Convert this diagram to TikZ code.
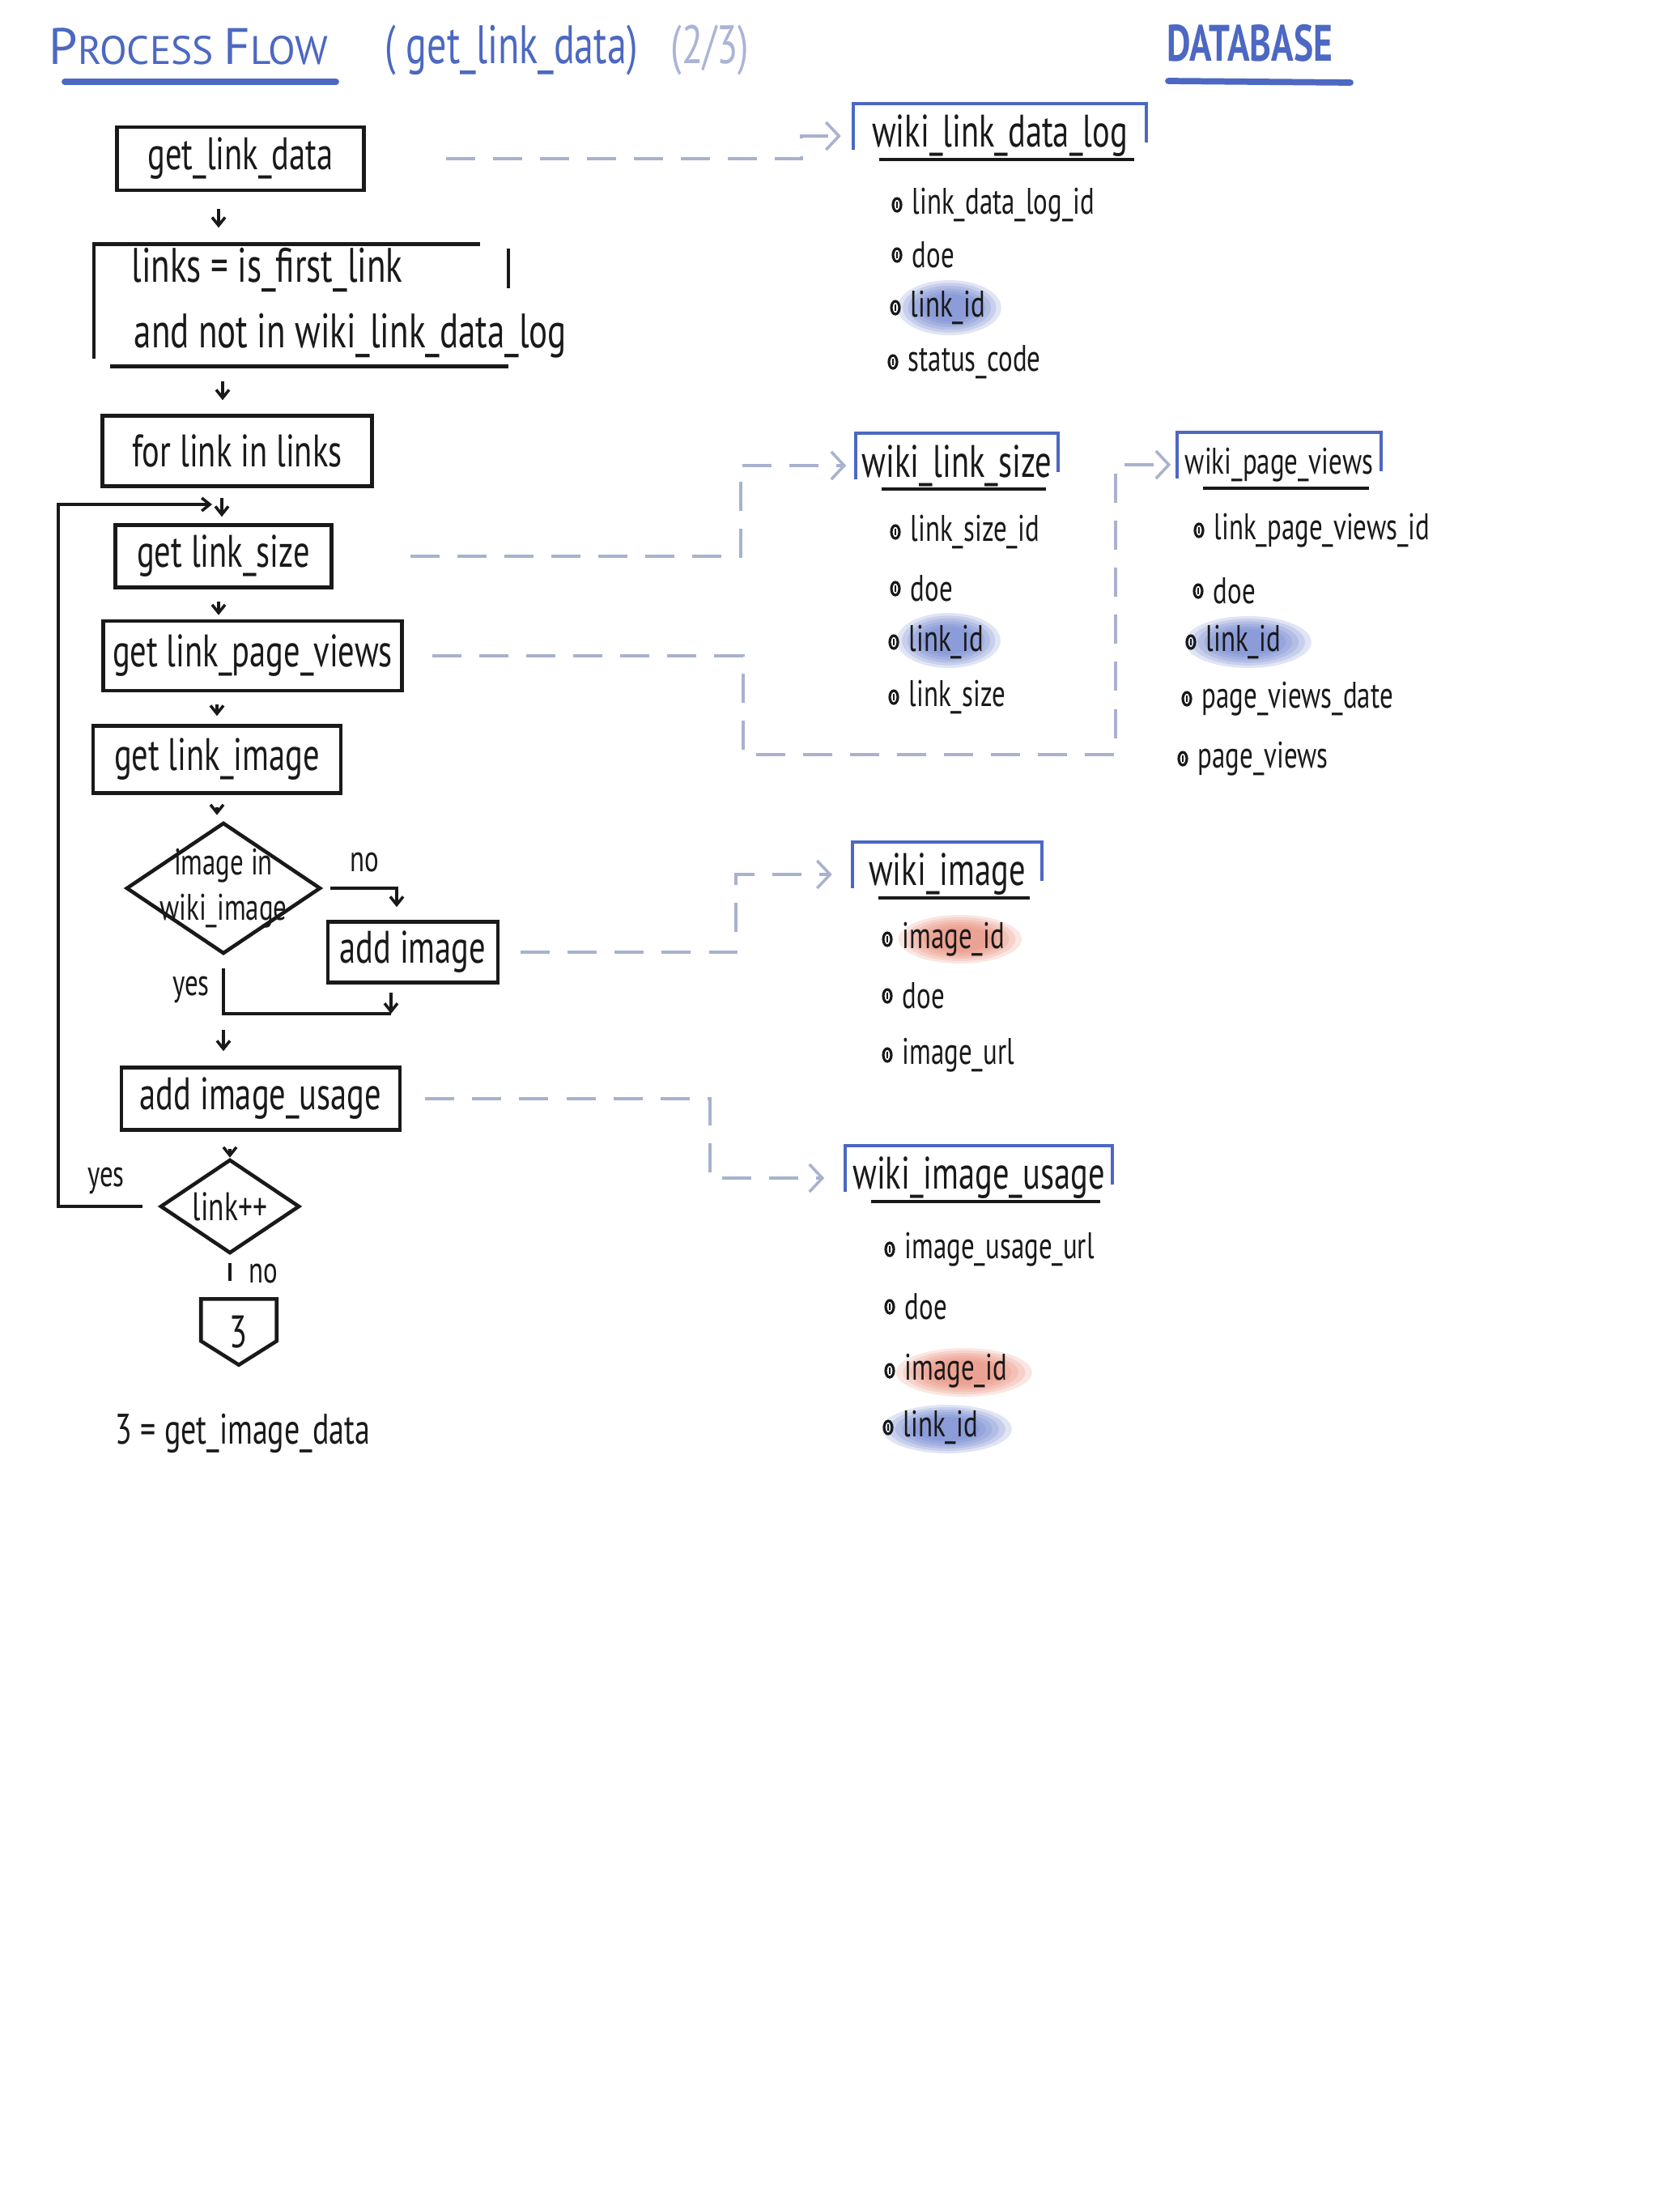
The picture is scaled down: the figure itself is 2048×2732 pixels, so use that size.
\documentclass[tikz,border=0pt]{standalone}
\usepackage{fontspec}
\setmainfont{PT Sans}
\newfontfamily\hand{PT Sans}[FakeStretch=0.72]
\newfontfamily\handwide{PT Sans}
\usetikzlibrary{arrows.meta,calc,shapes.geometric,backgrounds}

\definecolor{ink}{RGB}{25,25,25}
\definecolor{inkblue}{RGB}{76,104,194}
\definecolor{paleblue}{RGB}{170,180,214}
\definecolor{dbline}{RGB}{168,178,206}
\definecolor{hlblue}{RGB}{100,124,204}
\definecolor{hlred}{RGB}{232,130,110}

% frame and underline of a database table title
\newcommand\dbframe[1]{%
  \draw[tblframe] ($(#1.west)+(0,17)$) -- ($(#1.west)+(0,-40)$) -- ($(#1.east)+(0,-40)$) -- ($(#1.east)+(0,8)$);
  \draw[uline] ($(#1.west)+(32,29)$) -- ($(#1.east)+(-15,29)$);}
% soft marker highlight behind a field
\newcommand\glow[4]{%
  \foreach \k in {1,0.9,0.8,0.7,0.6,0.5}{\fill[#1, fill opacity=0.2] (#2) ellipse ({#3*\k} and {#4*\k});}}

\begin{document}
\begin{tikzpicture}[x=0.01cm, y=-0.01cm,
  flowbox/.style={draw=ink, line width=1.3pt, inner sep=0pt, text=ink,
    font=\hand\fontsize{16}{19}\selectfont},
  flowtext/.style={inner sep=0pt, text=ink, font=\hand\fontsize{16}{19}\selectfont},
  lbl/.style={inner sep=0pt, text=ink, font=\hand\fontsize{13}{15}\selectfont},
  flowline/.style={draw=ink, line width=1.3pt},
  flowarr/.style={draw=ink, line width=1pt, -{Straight Barb[length=0.1cm,width=0.16cm]}},
  decision/.style={diamond, draw=ink, line width=1.3pt, inner sep=0pt},
  dbarr/.style={draw=dbline, line width=1pt, dash pattern=on 0.36cm off 0.22cm,
    -{Straight Barb[length=0.16cm,width=0.34cm]}},
  tbltitle/.style={inner sep=0pt, text=ink, font=\hand\fontsize{16}{19}\selectfont},
  tblframe/.style={draw=inkblue, line width=1.1pt},
  uline/.style={draw=ink, line width=1.2pt},
  field/.style={anchor=west, inner sep=0pt, text=ink, font=\hand\fontsize{13}{15}\selectfont},
  keymark/.pic={\draw[ink, line width=0.9pt] (0,0) ellipse (5 and 8);
                \draw[ink, line width=0.7pt] (0,-4) -- (0,4);}
]
\useasboundingbox (0,0) rectangle (2048,2732);
\begin{scope}[on background layer]
  \fill[white] (0,0) rectangle (2048,2732);
\end{scope}

% ---------- headings ----------
\node[anchor=west, inner sep=0pt, text=inkblue] (ttl) at (60,57)
  {\handwide\fontsize{18}{20}\selectfont P\fontsize{14}{16}\selectfont ROCESS\ \fontsize{18}{20}\selectfont F\fontsize{14}{16}\selectfont LOW};
\draw[inkblue, line width=2.2pt, line cap=round] (80,101) -- (415,101);
\node[anchor=west, inner sep=0pt, text=inkblue] (sub) at (475,62)
  {\hand\fontsize{19}{22}\selectfont ( get\_link\_data)};
\node[anchor=west, inner sep=0pt, text=paleblue] (part) at (828,62)
  {\hand\fontsize{19}{22}\selectfont (2/3)};
\node[inner sep=0pt, text=inkblue] (dbttl) at (1544,53)
  {\hand\bfseries\fontsize{18}{20}\selectfont DATABASE};
\draw[inkblue, line width=2.2pt, line cap=round] (1443,100) -- (1668,102);

% ---------- process flow ----------
\node[flowbox, minimum width=3.05cm, minimum height=0.78cm] (gld) at (297,196) {get\_link\_data};

\node[inner sep=0pt, minimum width=5.1cm, minimum height=1.5cm] (links) at (372,377) {};
\draw[flowline] ($(links.south west)+(0,-10)$) -- (links.north west) -- ($(links.north east)+(-35,0)$);
\draw[flowline] ($(links.north east)+(0,6)$) -- ($(links.north east)+(0,55)$);
\draw[flowline] ($(links.south west)+(20,0)$) -- (links.south east);
\node[flowtext, anchor=west, font=\hand\fontsize{17}{20}\selectfont] (linksA) at (162,333) {links = is\_first\_link};
\node[flowtext, anchor=west, font=\hand\fontsize{17}{20}\selectfont] (linksB) at (165,415) {and not in wiki\_link\_data\_log};

\node[flowbox, minimum width=3.33cm, minimum height=0.87cm] (loop) at (293,557) {for link in links};
\node[flowbox, minimum width=2.67cm, minimum height=0.77cm] (gls) at (276,687) {get link\_size};
\node[flowbox, minimum width=3.69cm, minimum height=0.86cm] (glpv) at (312,810) {get link\_page\_views};
\node[flowbox, minimum width=3.06cm, minimum height=0.83cm] (gli) at (268,938) {get link\_image};

\node[decision, minimum width=2.4cm, minimum height=1.62cm] (inimg) at (276,1097) {};
\node[flowtext, align=center, font=\hand\fontsize{13}{16}\selectfont] (inimgtext) at (inimg) {image in\\wiki\_image};

\node[flowbox, minimum width=2.1cm, minimum height=0.75cm] (addimg) at (510,1176) {add image};
\node[flowbox, minimum width=3.44cm, minimum height=0.77cm] (addusage) at (322,1357) {add image\_usage};

\node[decision, minimum width=1.72cm, minimum height=1.16cm] (next) at (284,1490) {};
\node[flowtext, font=\hand\fontsize{14}{16}\selectfont] (nexttext) at (next) {link++};

\node[flowtext, minimum width=0.92cm, minimum height=0.8cm] (off) at (295,1645) {3};
\draw[flowline] (off.north west) -- (off.north east) -- ($(off.north east)+(0,52)$)
  -- (off.south) -- ($(off.north west)+(0,52)$) -- cycle;
\node[flowtext, font=\hand\fontsize{15}{18}\selectfont] (note) at (300,1770) {3 = get\_image\_data};

% flow connectors
\coordinate (cA) at (270,0);
\coordinate (cB) at (275,0);
\coordinate (cC) at (274,0);
\coordinate (cD) at (268,0);
\draw[flowarr, shorten <=0.21cm, shorten >=0.2cm] (cA |- gld.south) -- (cA |- links.north);
\draw[flowarr, shorten <=0.18cm, shorten >=0.17cm] (cB |- links.south) -- (cB |- loop.north);
\draw[flowarr, shorten <=0.12cm, shorten >=0.08cm] (cC |- loop.south) -- (cC |- gls.north);
\draw[flowarr, shorten <=0.15cm, shorten >=0.05cm] (cA |- gls.south) -- (cA |- glpv.north);
\draw[flowarr, shorten <=0.15cm, shorten >=0.1cm] (cD |- glpv.south) -- (cD |- gli.north);
\draw[flowarr, shorten <=0.15cm, shorten >=0.07cm] (cD |- gli.south) -- (cD |- inimg.north);

% image in wiki_image: no / yes
\coordinate (cNo) at (490,0);
\coordinate (cRet) at (483,0);
\coordinate (join) at (282,1252);
\draw[flowarr, shorten <=0.1cm, shorten >=0.16cm] (inimg.east) -- (cNo |- inimg.east) -- (cNo |- addimg.north);
\node[lbl] (nolbl) at (450,1065) {no};
\draw[flowline, shorten <=0.16cm] (inimg.south) -- (inimg.south |- join) -- (cRet |- join);
\draw[flowarr, shorten <=0.1cm] (cRet |- addimg.south) -- (cRet |- join);
\node[lbl] (yeslbl) at (236,1222) {yes};
\draw[flowarr, shorten <=0.2cm, shorten >=0.18cm] (inimg.south |- join) -- (inimg.south |- addusage.north);
\draw[flowarr, shorten <=0.21cm] (next.north |- addusage.south) -- (next.north);

% link++: yes loops back, no leaves the page
\coordinate (loopx) at (72,0);
\coordinate (loopin) at (262,623);
\draw[flowarr, shorten <=0.2cm] (next.west) -- (loopx |- next.west) -- (loopx |- loopin) -- (loopin);
\node[lbl] (yesloop) at (131,1458) {yes};
\draw[flowline, shorten <=0.1cm, shorten >=0.22cm] (next.south) -- (next.south |- off.north);
\node[lbl] (noend) at (325,1573) {no};

% ---------- database tables ----------
\node[tbltitle, minimum width=3.61cm] (wll) at (1235,168) {wiki\_link\_data\_log};
\dbframe{wll}
\node[field] (wll1) at (1126,253) {link\_data\_log\_id};
\node[field] (wll2) at (1126,315) {doe};
\node[field] (wll3) at (1124,380) {link\_id};
\node[field] (wll4) at (1121,447) {status\_code};

\node[tbltitle, minimum width=2.48cm] (wls) at (1182,575) {wiki\_link\_size};
\dbframe{wls}
\node[field] (wls1) at (1124,657) {link\_size\_id};
\node[field] (wls2) at (1124,727) {doe};
\node[field] (wls3) at (1122,793) {link\_id};
\node[field] (wls4) at (1122,861) {link\_size};

\node[tbltitle, minimum width=2.5cm, font=\hand\fontsize{13}{16}\selectfont] (wpv) at (1580,574) {wiki\_page\_views};
\dbframe{wpv}
\node[field] (wpv1) at (1499,655) {link\_page\_views\_id};
\node[field] (wpv2) at (1498,730) {doe};
\node[field] (wpv3) at (1489,793) {link\_id};
\node[field] (wpv4) at (1484,863) {page\_views\_date};
\node[field] (wpv5) at (1479,937) {page\_views};

\node[tbltitle, minimum width=2.33cm] (wi) at (1170,1080) {wiki\_image};
\dbframe{wi}
\node[field] (wi1) at (1114,1160) {image\_id};
\node[field] (wi2) at (1114,1230) {doe};
\node[field] (wi3) at (1114,1303) {image\_url};

\node[tbltitle, minimum width=3.28cm] (wiu) at (1209,1455) {wiki\_image\_usage};
\dbframe{wiu}
\node[field] (wiu1) at (1117,1543) {image\_usage\_url};
\node[field] (wiu2) at (1117,1614) {doe};
\node[field] (wiu3) at (1117,1693) {image\_id};
\node[field] (wiu4) at (1115,1763) {link\_id};

% key marks in front of every field
\foreach \f in {wll1,wll2,wll3,wll4,wls1,wls2,wls3,wls4,wpv1,wpv2,wpv3,wpv4,wpv5,wi1,wi2,wi3,wiu1,wiu2,wiu3,wiu4}
  \pic at ($(\f.west)+(-18,0)$) {keymark};

% highlighted foreign keys
\begin{scope}[on background layer]
  \glow{hlblue}{$(wll3.center)+(2,0)$}{64}{34}
  \glow{hlblue}{$(wls3.center)+(3,-2)$}{64}{34}
  \glow{hlblue}{$(wpv3.center)+(6,0)$}{78}{32}
  \glow{hlred}{$(wi1.center)+(8,0)$}{76}{30}
  \glow{hlred}{$(wiu3.center)+(10,2)$}{84}{30}
  \glow{hlblue}{$(wiu4.center)+(8,2)$}{80}{30}
\end{scope}

% ---------- process steps to tables ----------
\coordinate (kA) at (990,0);
\draw[dbarr, shorten <=0.99cm, shorten >=0.15cm] (gld.east) -- (kA |- gld.east) -- (kA |- wll.west) -- (wll.west);
\coordinate (kB) at (915,0);
\draw[dbarr, shorten <=0.95cm, shorten >=0.12cm] (gls.east) -- (kB |- gls.east) -- (kB |- wls.west) -- (wls.west);
\coordinate (kC) at (918,932);
\coordinate (kD) at (1378,932);
\draw[dbarr, shorten <=0.35cm, shorten >=0.08cm] (glpv.east) -- (kC |- glpv.east) -- (kC) -- (kD) -- (kD |- wpv.west) -- (wpv.west);
\coordinate (kE) at (909,0);
\draw[dbarr, shorten <=0.26cm, shorten >=0.25cm] (addimg.east) -- (kE |- addimg.east) -- (kE |- wi.west) -- (wi.west);
\coordinate (kF) at (877,0);
\draw[dbarr, shorten <=0.29cm, shorten >=0.26cm] (addusage.east) -- (kF |- addusage.east) -- (kF |- wiu.west) -- (wiu.west);
\end{tikzpicture}
\end{document}
